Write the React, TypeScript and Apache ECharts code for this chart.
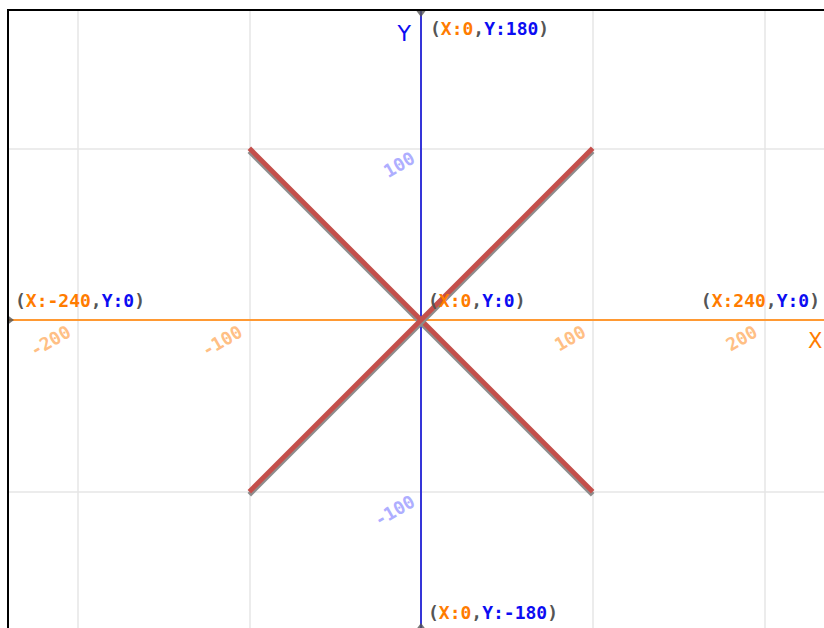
import { useEffect, useRef } from "react";
import * as echarts from "echarts";

const xRange = [-240, 240];
const yRange = [-180, 180];
const xTicks = [-200, -100, 100, 200];
const yTicks = [-100, 100];
const lineA = [[-100, 100], [100, -100]];
const lineB = [[-100, -100], [100, 100]];
const cornerPoints = [[-240, 0], [0, 180], [0, 0], [240, 0], [0, -180]];
const markerPoints = [[-240, 0], [0, 180], [0, -180]];

const GRID_W = 824;
const GRID_H = 618;

export default function App() {
  const ref = useRef<HTMLDivElement>(null);
  useEffect(() => {
    const chart = echarts.init(ref.current!, null, { renderer: "svg" });
    const mono = "DejaVu Sans Mono";
    const orange = "#ff7c00";
    const blue = "#0c0cf2";
    const gray = "#555555";
    const labelPlacement = [
      { align: "left", offset: [6, -20] },
      { align: "left", offset: [9, 17] },
      { align: "left", offset: [7, -20] },
      { align: "right", offset: [-13, -20] },
      { align: "left", offset: [7, -17] },
    ];
    const markerStyle = [
      { rotate: -90, offset: [2, 0] },
      { rotate: 180, offset: [0, 3] },
      { rotate: 0, offset: [0, -3] },
    ];
    const redLine = {
      color: "#c4504c",
      width: 5,
      cap: "butt",
      shadowColor: "#8c8c8c",
      shadowBlur: 0,
      shadowOffsetX: 0,
      shadowOffsetY: 3,
    };
    const tickFont = { fontFamily: mono, fontWeight: "bold", fontSize: 18 };
    const noBorder = { textBorderWidth: 0, textBorderColor: "transparent", textShadowBlur: 0 };
    chart.setOption({
      animation: false,
      backgroundColor: "#ffffff",
      grid: {
        left: 9,
        top: 11,
        width: GRID_W,
        height: GRID_H,
        containLabel: false,
        outerBoundsMode: "none",
      },
      xAxis: {
        type: "value",
        min: xRange[0],
        max: xRange[1],
        position: "bottom",
        offset: -GRID_H / 2,
        name: "X",
        nameLocation: "end",
        nameGap: -25,
        nameTextStyle: {
          color: orange,
          fontFamily: "DejaVu Sans",
          fontSize: 21,
          align: "left",
          verticalAlign: "top",
          padding: [10, 0, 0, 0],
        },
        axisLine: { onZero: false, lineStyle: { color: "#ff9933", width: 2 } },
        axisTick: { show: false, customValues: xTicks },
        axisLabel: {
          customValues: xTicks,
          interval: 0,
          rotate: 30,
          margin: 5,
          padding: [0, 10, 0, 0],
          color: "#ffbf85",
          ...tickFont,
        },
        splitLine: { show: true, lineStyle: { color: "#e6e6e6", width: 1.5 } },
      },
      yAxis: {
        type: "value",
        min: yRange[0],
        max: yRange[1],
        position: "left",
        offset: -GRID_W / 2,
        name: "Y",
        nameLocation: "end",
        nameGap: -22,
        nameTextStyle: {
          color: blue,
          fontFamily: "DejaVu Sans",
          fontSize: 22,
          align: "right",
          verticalAlign: "middle",
          padding: [0, 10, 0, 0],
        },
        axisLine: { onZero: false, lineStyle: { color: "#3535d8", width: 2 } },
        axisTick: { show: false, customValues: yTicks },
        axisLabel: {
          customValues: yTicks,
          interval: 0,
          rotate: 30,
          margin: -6,
          padding: [0, 16, 0, 0],
          color: "#aeaeff",
          ...tickFont,
        },
        splitLine: { show: true, lineStyle: { color: "#e6e6e6", width: 1.5 } },
      },
      series: [
        {
          type: "line",
          data: lineA,
          symbol: "none",
          lineStyle: redLine,
          z: 3,
        },
        {
          type: "line",
          data: lineB,
          symbol: "none",
          lineStyle: redLine,
          z: 3,
        },
        {
          type: "scatter",
          clip: false,
          data: markerPoints.map((p, i) => ({
            value: p,
            symbolRotate: markerStyle[i].rotate,
            symbolOffset: markerStyle[i].offset,
          })),
          symbol: "triangle",
          symbolSize: [9, 6],
          itemStyle: { color: "#555555" },
          z: 4,
        },
        {
          type: "scatter",
          clip: false,
          symbolSize: 0,
          itemStyle: { color: "#ffffff", opacity: 1 },
          z: 5,
          data: cornerPoints.map((p, i) => ({
            value: p,
            label: {
              show: true,
              position: "inside",
              align: labelPlacement[i].align,
              verticalAlign: "middle",
              offset: labelPlacement[i].offset,
            },
          })),
          label: {
            show: true,
            color: gray,
            ...noBorder,
            ...tickFont,
            formatter: (p: any) =>
              `{p|(}{x|X:${p.value[0]}}{p|,}{y|Y:${p.value[1]}}{p|)}`,
            rich: {
              p: { color: gray, ...noBorder, ...tickFont },
              x: { color: orange, ...noBorder, ...tickFont },
              y: { color: blue, ...noBorder, ...tickFont },
            },
          },
        },
      ],
      graphic: [
        {
          type: "rect",
          shape: { x: 8, y: 10, width: 840, height: 640 },
          style: { fill: "none", stroke: "#000000", lineWidth: 2 },
          z: 100,
        },
      ],
    });
    return () => chart.dispose();
  }, []);
  return (
    <div
      ref={ref}
      style={{ position: "absolute", left: 0, top: 0, width: 824, height: 628 }}
    />
  );
}
